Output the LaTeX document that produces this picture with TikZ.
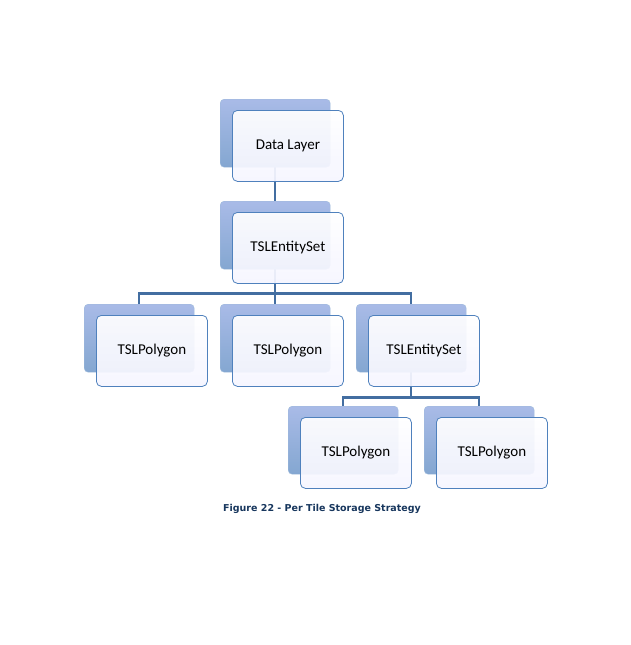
\documentclass[tikz,border=0pt]{standalone}
\usepackage{fontspec}
\setmainfont{Carlito}
\newfontfamily\capfont{DejaVu Sans}
\usetikzlibrary{positioning,backgrounds}
\definecolor{tileblue}{HTML}{4F81BD}
\definecolor{capblue}{HTML}{17365D}

\tikzset{
  backtile/.style={rectangle,rounded corners=4pt,minimum width=110pt,minimum height=68pt,
    top color=blue!20!tileblue!45,bottom color=tileblue!70,draw=tileblue!55,inner sep=0pt},
  fronttile/.style={rectangle,rounded corners=5pt,minimum width=111pt,minimum height=71pt,
    draw=tileblue,thick,top color=white,bottom color=blue!4,fill opacity=0.93,text opacity=1,
    font=\fontsize{15}{18}\selectfont,inner sep=0pt},
  link/.style={line width=2.2pt,draw=tileblue!85!black}
}
% tile: name, x, y (top left of front box), text
\newcommand{\tile}[4]{%
  \node[backtile,anchor=north west] (b#1) at (#2-12,#3-11) {};
  \node[fronttile,anchor=north west] (#1) at (#2,#3) {#4};
}

\begin{document}
\begin{tikzpicture}[x=1pt,y=-1pt]
\useasboundingbox (0,0) rectangle (631,645);

\tile{data}{232}{110}{Data Layer}
\tile{ent}{232}{212}{TSLEntitySet}
\tile{polya}{96}{315}{TSLPolygon}
\tile{polyb}{232}{315}{TSLPolygon}
\tile{entb}{368}{315}{TSLEntitySet}
\tile{polyc}{300}{417}{TSLPolygon}
\tile{polyd}{436}{417}{TSLPolygon}

\begin{scope}[on background layer]
\draw[link] (bdata.south) -- (bent.north);
\draw[link] (bent.south) -- ++(0,24) coordinate (busa) -| (bpolya.north);
\draw[link] (busa) -| (bentb.north);
\draw[link] (busa) -- (bpolyb.north);
\draw[link] (bentb.south) -- ++(0,25) coordinate (busb) -| (bpolyc.north);
\draw[link] (busb) -| (bpolyd.north);
\end{scope}

\node[font=\capfont\bfseries\fontsize{9.5}{11}\selectfont,text=capblue] (caption) at (322,509)
  {Figure 22 - Per Tile Storage Strategy};
\end{tikzpicture}
\end{document}
